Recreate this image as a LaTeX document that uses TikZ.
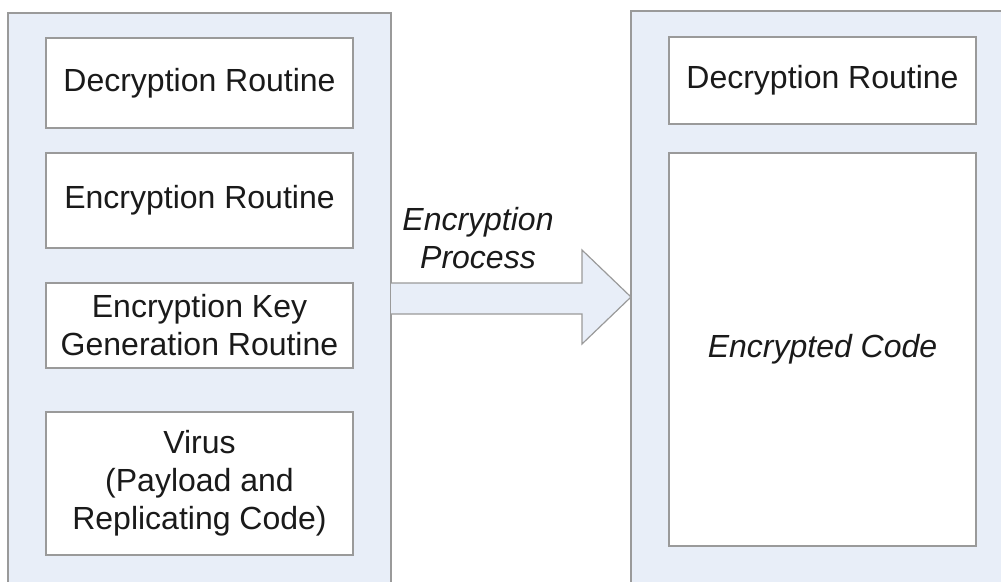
\documentclass[tikz,border=0pt]{standalone}
\usepackage{fontspec}
\setmainfont{Liberation Sans}
\usetikzlibrary{calc}
\definecolor{panelfill}{HTML}{E8EEF8}
\definecolor{edgegray}{HTML}{9A9A9A}
\definecolor{txt}{HTML}{1A1A1A}
\tikzset{
  panel/.style={draw=edgegray, line width=1.2pt, fill=panelfill},
  item/.style={draw=edgegray, line width=1.2pt, fill=white, text=txt, align=center,
    font=\fontsize{32}{38}\selectfont, inner sep=0pt},
}
\begin{document}
\begin{tikzpicture}[x=1pt,y=-1pt]
\useasboundingbox (0,0) rectangle (1001,581);
\begin{scope}
\clip (0,0) rectangle (1001,581);
% panels
\draw[panel] (8,13) rectangle (391,600);
\coordinate (lp) at (391,298);
\draw[panel] (631,11) rectangle (1010,600);
\coordinate (rp) at (631,297);
% arrow
\draw[panel, line join=miter] ($(lp)+(0,-15)$) -- (582,283) -- (582,250) -- (rp) -- (582,344) -- (582,314) -- ($(lp)+(0,16)$);
\end{scope}
% left items
\node[item, minimum width=307, minimum height=90] (d1) at (199.5,83) {Decryption Routine};
\node[item, minimum width=307, minimum height=95] (e1) at (199.5,200.5) {Encryption Routine};
\node[item, minimum width=307, minimum height=85] (k1) at (199.5,325.5) {Encryption Key\\Generation Routine};
\node[item, minimum width=307, minimum height=143] (v1) at (199.5,483.5) {Virus\\(Payload and\\Replicating Code)};
% right items
\node[item, minimum width=307, minimum height=87] (d2) at (822.5,80.5) {Decryption Routine};
\node[item, minimum width=307, minimum height=393, font=\fontsize{32}{38}\selectfont\itshape] (c2) at (822.5,349.5) {Encrypted Code};
% arrow label
\node[text=txt, align=center, font=\fontsize{32}{38}\selectfont\itshape] (lbl) at (478,238) {Encryption\\Process};
\end{tikzpicture}
\end{document}
